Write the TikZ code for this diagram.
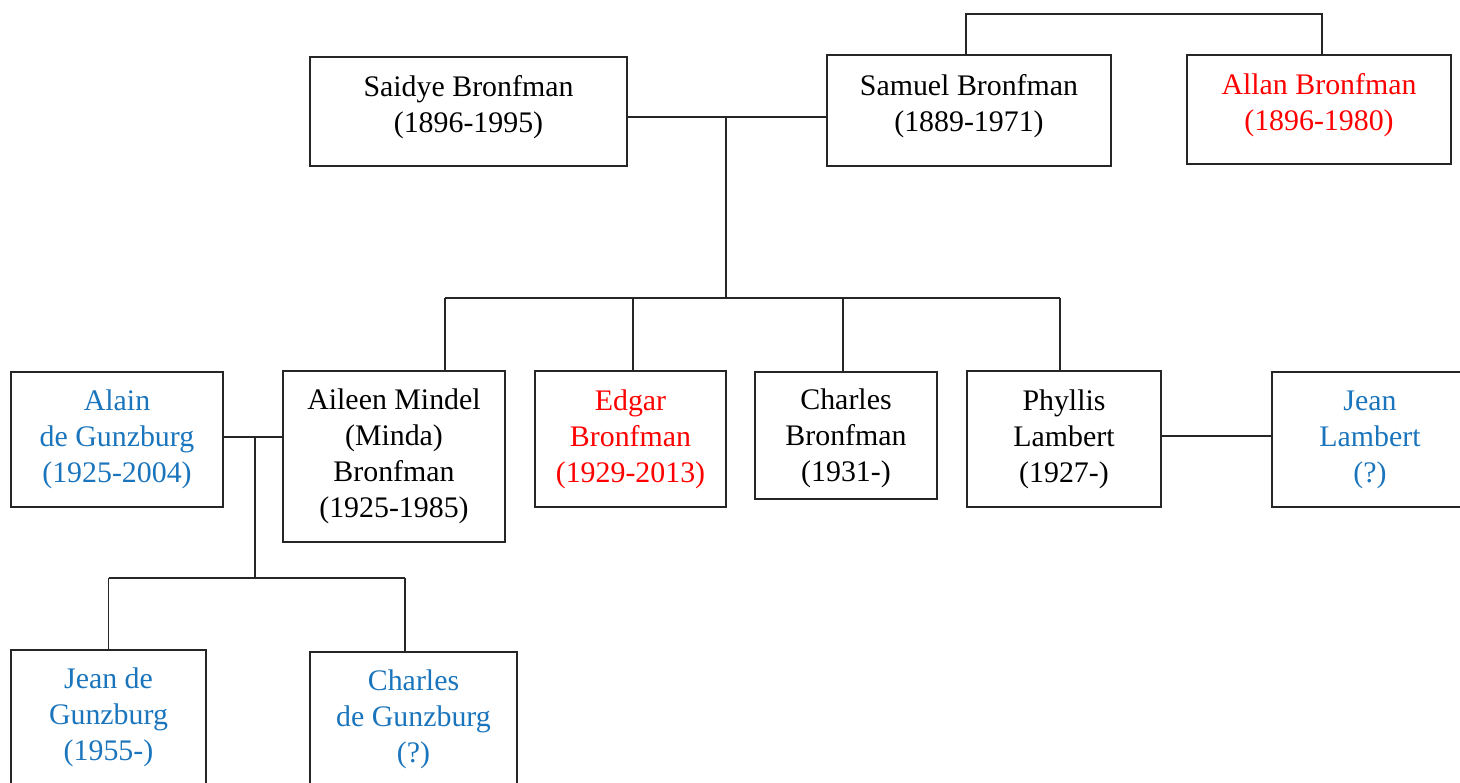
\documentclass[tikz,border=0pt]{standalone}
\usepackage{fontspec}
\setmainfont{Liberation Serif}
\usepackage{xcolor}
\definecolor{kinblue}{HTML}{1B75BC}
\definecolor{kinred}{HTML}{FF0000}

\begin{document}
\begin{tikzpicture}[x=0.02cm,y=-0.02cm,
  person/.style={draw=black!85,line width=0.7pt,align=center,inner sep=0pt,
    font=\fontsize{17}{20.5}\selectfont},
  raised/.style={text depth=8pt},
  lowered/.style={text depth=-2pt},
  link/.style={draw=black!85,line width=0.7pt}]
\useasboundingbox (0,0) rectangle (1460,783);

% parents
\node[person,raised,minimum width=6.34cm,minimum height=2.18cm] (saidye) at (468.5,111.5) {Saidye Bronfman\\(1896-1995)};
\node[person,raised,minimum width=5.68cm,minimum height=2.22cm] (samuel) at (969,110.5) {Samuel Bronfman\\(1889-1971)};
\node[person,raised,minimum width=5.28cm,minimum height=2.18cm,text=kinred] (allan) at (1319,109.5) {Allan Bronfman\\(1896-1980)};

% children
\node[person,minimum width=4.24cm,minimum height=2.7cm,text=kinblue] (alain) at (117,439.5) {Alain\\de Gunzburg\\(1925-2004)};
\node[person,minimum width=4.44cm,minimum height=3.42cm] (aileen) at (394,456.5) {Aileen Mindel\\(Minda)\\Bronfman\\(1925-1985)};
\node[person,minimum width=3.82cm,minimum height=2.72cm,text=kinred] (edgar) at (630.5,439) {Edgar\\Bronfman\\(1929-2013)};
\node[person,lowered,minimum width=3.64cm,minimum height=2.54cm] (charles) at (846,435.5) {Charles\\Bronfman\\(1931-)};
\node[person,minimum width=3.88cm,minimum height=2.72cm] (phyllis) at (1064,439) {Phyllis\\Lambert\\(1927-)};
\node[person,minimum width=3.92cm,minimum height=2.7cm,text=kinblue] (jeanl) at (1370,439.5) {Jean\\Lambert\\(?)};

% grandchildren
\node[person,minimum width=3.9cm,minimum height=2.7cm,text=kinblue] (jeang) at (108.5,717.5) {Jean de\\Gunzburg\\(1955-)};
\node[person,minimum width=4.14cm,minimum height=2.7cm,text=kinblue] (charlesg) at (413.5,719.5) {Charles\\de Gunzburg\\(?)};

% junctions
\coordinate (top) at (966,14);
\coordinate (m1) at (726,117);
\coordinate (kids) at (726,298);
\coordinate (m2) at (255,437);
\coordinate (gkids) at (255,578);
\coordinate (m3) at (1161,436);

% siblings
\draw[link] ([xshift=-0.06cm]samuel.north) -- ([xshift=-0.06cm]samuel.north |- top) -| ([xshift=0.06cm]allan.north);

% Samuel and Saidye
\draw[link] (saidye.east |- m1) -- (samuel.west |- m1);
\draw[link] (m1) -- (kids);
\draw[link] ([xshift=1.02cm]aileen.north |- kids) -- ([xshift=-0.08cm]phyllis.north |- kids);
\foreach \k/\dx in {aileen/1.02,edgar/0.05,charles/-0.06,phyllis/-0.08}
  \draw[link] ([xshift=\dx cm]\k.north) -- ([xshift=\dx cm]\k.north |- kids);

% Alain and Aileen
\draw[link] (alain.east |- m2) -- (aileen.west |- m2);
\draw[link] (m2) -- (gkids);
\draw[link] (jeang.north |- gkids) -- ([xshift=-0.17cm]charlesg.north |- gkids);
\draw[link] (jeang.north) -- (jeang.north |- gkids);
\draw[link] ([xshift=-0.17cm]charlesg.north) -- ([xshift=-0.17cm]charlesg.north |- gkids);

% Phyllis and Jean
\draw[link] (phyllis.east |- m3) -- (jeanl.west |- m3);
\end{tikzpicture}
\end{document}
